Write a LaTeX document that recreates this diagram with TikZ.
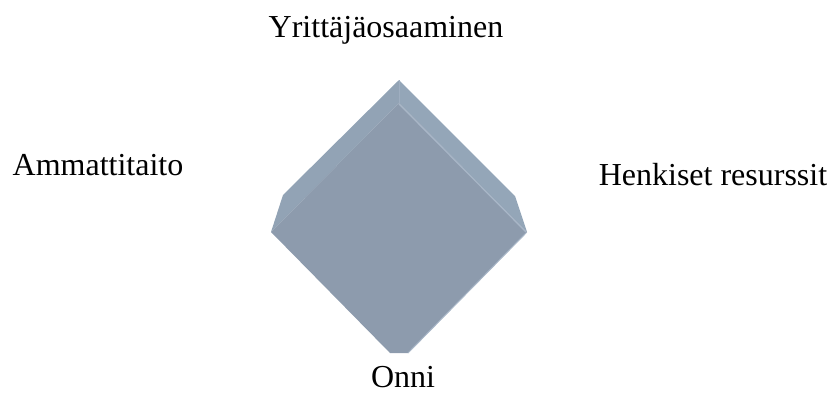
\documentclass[tikz,border=0pt]{standalone}
\usepackage{fontspec}
\setmainfont{Liberation Serif}
\definecolor{frontc}{RGB}{141,155,173}
\definecolor{bevl}{RGB}{146,163,181}
\definecolor{bevr}{RGB}{148,166,184}
\definecolor{hilite}{RGB}{168,182,199}
\tikzset{lbl/.style={anchor=base,inner sep=0pt,font=\fontsize{32bp}{38bp}\selectfont}}
\begin{document}
\begin{tikzpicture}[x=1bp,y=-1bp]
\useasboundingbox (0,0) rectangle (830,393);
% bevel faces
\fill[bevl] (271,232) -- (283,195) -- (399,80) -- (399,103) -- cycle;
\fill[bevr] (399,80) -- (515,196) -- (527,232) -- (399,103) -- cycle;
% front face
\fill[frontc] (399,103) -- (527,232) -- (408,353) -- (390,353) -- (271,232) -- cycle;
% highlights
\draw[hilite,line width=1.2bp] (399,104) -- (526,232);
\draw[hilite,line width=1bp] (526,233) -- (408,353);
\draw[hilite!60!bevl,line width=0.8bp] (399,80) -- (399,103);
% labels
\node[lbl] (top) at (386,37) {Yrittäjäosaaminen};
\node[lbl] (left) at (98,175) {Ammattitaito};
\node[lbl] (right) at (713,185) {Henkiset resurssit};
\node[lbl] (bottom) at (403,387) {Onni};
\end{tikzpicture}
\end{document}
